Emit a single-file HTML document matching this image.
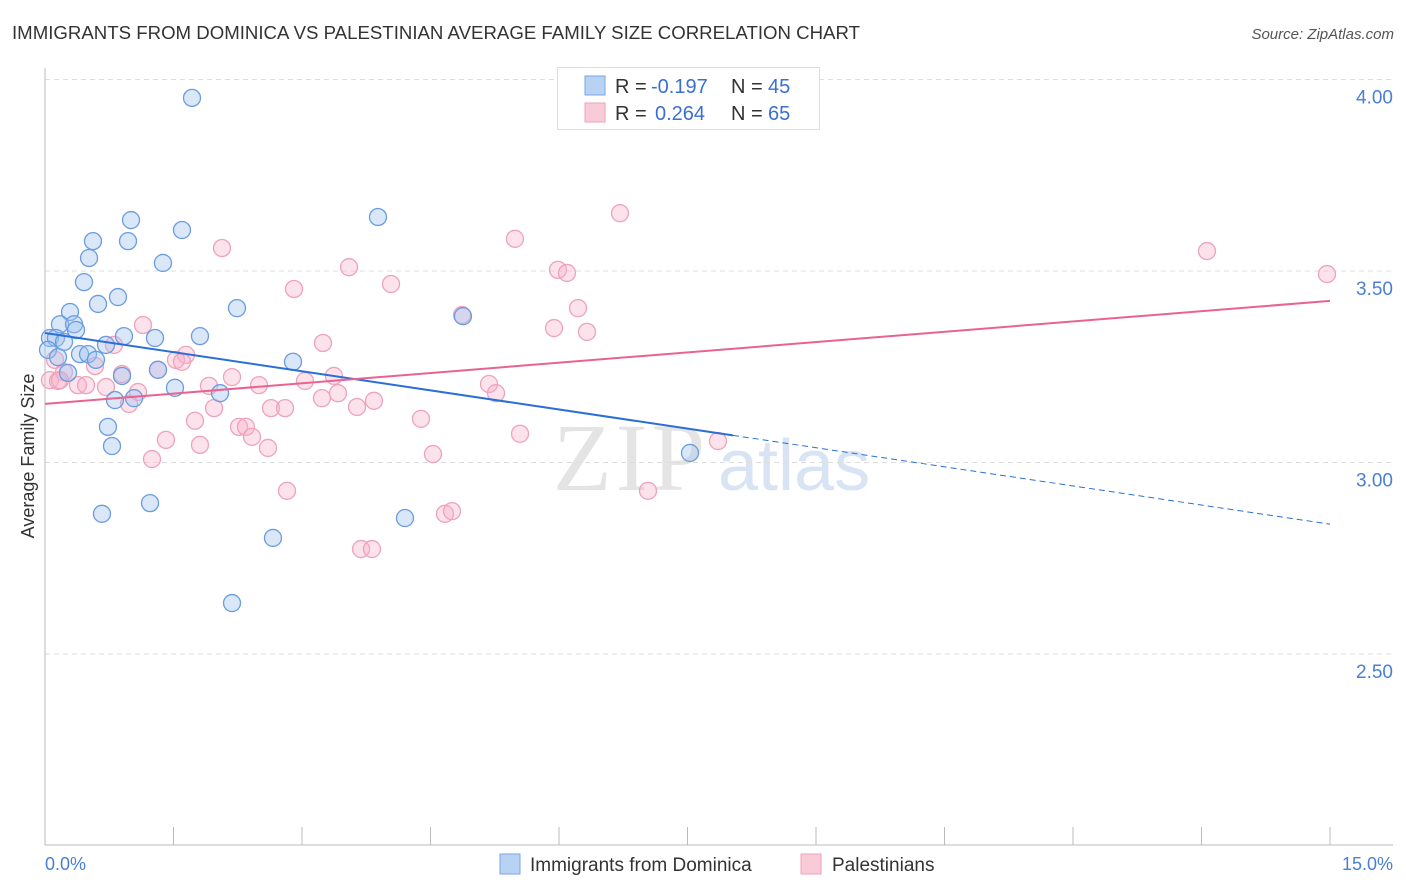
<!DOCTYPE html>
<html><head><meta charset="utf-8"><style>
body{margin:0;background:#fff;font-family:"Liberation Sans",sans-serif;}
svg{display:block}
</style></head><body>
<svg id="chart" width="1406" height="892" xmlns="http://www.w3.org/2000/svg">
<text x="12" y="39" font-size="18" fill="#333" textLength="848" lengthAdjust="spacingAndGlyphs">IMMIGRANTS FROM DOMINICA VS PALESTINIAN AVERAGE FAMILY SIZE CORRELATION CHART</text>
<text x="1394" y="39" font-size="15" fill="#555" font-style="italic" text-anchor="end">Source: ZipAtlas.com</text>
<g>
<text x="553" y="490" font-size="96" fill="#e4e4e4" font-family="Liberation Serif,serif" letter-spacing="4">ZIP</text>
<text x="718" y="490" font-size="72" fill="#d8e4f4">atlas</text>
</g>
<g id="grid"></g>
<g id="axes"></g>
<g id="dots"></g>
<g id="lines"></g>
<text x="34" y="456" font-size="18" fill="#333" text-anchor="middle" transform="rotate(-90 34 456)">Average Family Size</text>
<text x="45" y="870" font-size="18" fill="#4a7fd4">0.0%</text>
<text x="1393" y="870" font-size="18" fill="#4a7fd4" text-anchor="end">15.0%</text>
<g>
<rect x="557.5" y="67.5" width="262" height="62" fill="#fff" stroke="#ddd"/>
<rect x="585" y="76" width="20" height="19" fill="#b8d2f4" stroke="#7aa6e6"/>
<rect x="585" y="103" width="20" height="19" fill="#f9cbd8" stroke="#eea2bb"/>
<text x="615" y="93" font-size="20" fill="#333">R = </text><text x="651" y="93" font-size="20" fill="#3a70d0">-0.197</text>
<text x="731" y="93" font-size="20" fill="#333">N = </text><text x="768" y="93" font-size="20" fill="#3a70d0">45</text>
<text x="615" y="120" font-size="20" fill="#333">R = </text><text x="655" y="120" font-size="20" fill="#3a70d0">0.264</text>
<text x="731" y="120" font-size="20" fill="#333">N = </text><text x="768" y="120" font-size="20" fill="#3a70d0">65</text>
</g>
<g>
<rect x="500" y="854" width="20" height="20" fill="#b8d2f4" stroke="#7aa6e6"/>
<text x="530" y="871" font-size="19" fill="#333">Immigrants from Dominica</text>
<rect x="801" y="854" width="20" height="20" fill="#f9cbd8" stroke="#eea2bb"/>
<text x="832" y="871" font-size="19" fill="#333">Palestinians</text>
</g>
</svg>
<script>
const blueX=[1.716,3.887,1.004,1.599,0.560,0.969,0.514,1.377,0.455,0.852,0.292,0.619,2.241,0.175,0.339,0.362,0.058,0.128,0.222,0.922,1.284,1.809,0.712,0.035,0.409,0.152,0.502,0.595,2.895,0.899,1.319,0.268,1.517,2.043,0.817,1.039,0.735,0.782,7.529,1.226,0.665,4.202,2.661,2.183,4.879];
const blueY=[3.952,3.641,3.633,3.607,3.578,3.578,3.534,3.521,3.471,3.432,3.393,3.414,3.403,3.361,3.361,3.346,3.325,3.325,3.315,3.330,3.325,3.330,3.307,3.294,3.283,3.275,3.283,3.268,3.263,3.226,3.242,3.234,3.195,3.181,3.163,3.168,3.093,3.043,3.025,2.894,2.866,2.855,2.803,2.633,3.382];
const pinkX=[6.712,5.486,2.066,13.564,3.549,5.988,6.093,14.965,4.039,2.907,6.222,5.942,6.327,1.144,3.245,0.805,1.646,1.529,1.599,0.117,0.584,0.899,1.319,2.183,0.222,0.058,0.152,0.385,0.479,0.712,1.086,1.914,2.498,3.035,3.373,5.183,5.265,3.233,3.420,3.840,0.981,1.973,2.638,2.802,3.642,4.389,1.751,2.265,2.346,2.416,1.412,1.809,2.603,5.545,7.856,4.529,1.249,2.825,7.039,4.669,4.751,3.689,3.817,4.868,0.175];
const pinkY=[3.651,3.584,3.560,3.552,3.510,3.503,3.495,3.492,3.466,3.453,3.403,3.351,3.341,3.359,3.312,3.307,3.281,3.268,3.263,3.268,3.252,3.231,3.242,3.223,3.236,3.215,3.213,3.202,3.202,3.197,3.184,3.200,3.202,3.213,3.226,3.205,3.181,3.168,3.181,3.161,3.153,3.142,3.142,3.142,3.145,3.114,3.109,3.093,3.093,3.067,3.059,3.046,3.038,3.075,3.056,3.022,3.009,2.926,2.926,2.866,2.873,2.774,2.774,3.385,3.215];
const blueTrend=[3.338,2.839];
const blueSolidEnd=8.03;
const pinkTrend=[3.153,3.422];
const yTicks=[4.0,3.5,3.0,2.5];
const yTickLabels=["4.00","3.50","3.00","2.50"];
const xTicks=[0,1.5,3,4.5,6,7.5,9,10.5,12,13.5,15];

const NS="http://www.w3.org/2000/svg";
const sx=v=>45+v*(1285/15);
const sy=v=>79.5+(4-v)*383;
function mk(tag,attrs,parent){const e=document.createElementNS(NS,tag);for(const k in attrs)e.setAttribute(k,attrs[k]);parent.appendChild(e);return e;}
const grid=document.getElementById('grid'),axes=document.getElementById('axes'),dots=document.getElementById('dots'),lines=document.getElementById('lines');
yTicks.forEach((t,i)=>{
  const l=mk('line',{x1:45,x2:1393,y1:sy(t),y2:sy(t),stroke:'#ddd','stroke-dasharray':'5,4'},grid);
  
  
  const tx=mk('text',{x:1393,y:sy(t)+24,'font-size':19,fill:'#4a7fd4','text-anchor':'end'},grid);
  tx.textContent=yTickLabels[i];
  
  
});
const ya=mk('line',{x1:45,x2:45,y1:68,y2:845,stroke:'#bbb'},axes);


const xa=mk('line',{x1:45,x2:1393,y1:845,y2:845,stroke:'#bbb'},axes);


xTicks.forEach(t=>{
  const k=mk('line',{x1:sx(t),x2:sx(t),y1:827,y2:845,stroke:'#bbb'},axes);
  
  
});
pinkX.forEach((x,i)=>{
  const c=mk('circle',{cx:sx(x),cy:sy(pinkY[i]),r:8.5,fill:'rgba(246,180,202,0.38)',stroke:'#eea2bb','stroke-width':1.3},dots);
  
  
});
blueX.forEach((x,i)=>{
  const c=mk('circle',{cx:sx(x),cy:sy(blueY[i]),r:8.5,fill:'rgba(160,196,240,0.4)',stroke:'#6a9de0','stroke-width':1.3},dots);
  
  
});
const by=x=>blueTrend[0]+(blueTrend[1]-blueTrend[0])*x/15;
const b1=mk('line',{x1:sx(0),y1:sy(by(0)),x2:sx(blueSolidEnd),y2:sy(by(blueSolidEnd)),stroke:'#2a6fd6','stroke-width':2},lines);


const b2=mk('line',{x1:sx(blueSolidEnd),y1:sy(by(blueSolidEnd)),x2:sx(15),y2:sy(by(15)),stroke:'#2a6fd6','stroke-width':1,'stroke-dasharray':'6,4'},lines);


const p1=mk('line',{x1:sx(0),y1:sy(pinkTrend[0]),x2:sx(15),y2:sy(pinkTrend[1]),stroke:'#e8648e','stroke-width':2},lines);


</script>
</body></html>
